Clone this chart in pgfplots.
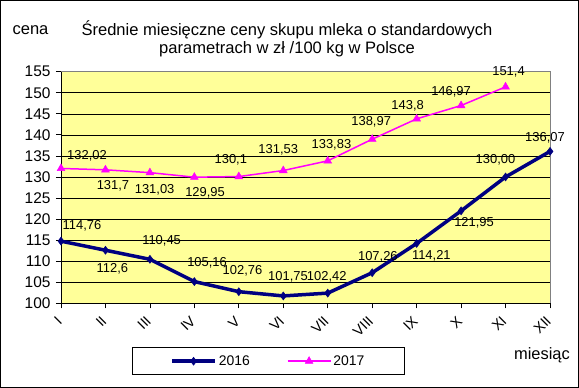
\documentclass[border=0pt]{standalone}
\usepackage{pgfplots}
\pgfplotsset{compat=1.18}
\usepackage{fontspec}
\setmainfont{Liberation Sans}
\definecolor{plotbg}{HTML}{FFFF99}
\definecolor{navyA}{HTML}{000080}
\definecolor{magB}{HTML}{FF00FF}
\begin{document}
\begin{tikzpicture}
\begin{axis}[
  name=ax, at={(0,0)}, anchor=south west,
  scale only axis, width=489bp, height=231.6bp,
  xmin=0, xmax=11, ymin=100, ymax=155,
  xtick={0,...,11},
  xticklabels={I,II,III,IV,V,VI,VII,VIII,IX,X,XI,XII},
  ytick={100,105,...,155},
  ymajorgrids, grid style={black, line width=0.6bp},
  axis background/.style={fill=plotbg},
  axis line style={draw=none},
  tick style={black, line width=0.8bp},
  major tick length=5bp,
  tick align=outside,
  tick pos=left,
  clip=false,
  /pgf/number format/assume math mode=true,
  yticklabel style={font=\fontsize{15.5}{15.5}\selectfont, xshift=-2bp},
  xticklabel style={yshift=-8bp, xshift=1bp, rotate=45, anchor=east, font=\fontsize{14.5}{14.5}\selectfont},
  legend image code/.code={\draw[mark repeat=2,mark phase=2,#1] plot coordinates {(0bp,0bp) (21.5bp,0bp) (43bp,0bp)};},
  legend style={draw=black, line width=0.8bp, at={(0.424,-0.25)}, anchor=center,
    legend columns=2, font=\fontsize{14}{14}\selectfont,
    inner xsep=38bp, inner ysep=6bp,
    /tikz/every even column/.append style={column sep=35bp}},
]
\addplot[navyA, line width=3.5bp, mark=diamond*, mark size=4bp,
  mark options={solid, fill=navyA, line width=0.5bp}] coordinates {
  (0,114.76) (1,112.6) (2,110.45) (3,105.16) (4,102.76) (5,101.75)
  (6,102.42) (7,107.26) (8,114.21) (9,121.95) (10,130.00) (11,136.07)};
\addlegendentry{2016}
\addplot[magB, line width=1.5bp, mark=triangle*, mark size=4.5bp,
  mark options={solid, fill=magB, line width=0.5bp}] coordinates {
  (0,132.02) (1,131.7) (2,131.03) (3,129.95) (4,130.1) (5,131.53)
  (6,133.83) (7,138.97) (8,143.8) (9,146.97) (10,151.4)};
\addlegendentry{2017}
\draw[gray, line width=1bp] (rel axis cs:0,1) -- (rel axis cs:1,1) -- (rel axis cs:1,0);
\draw[black, line width=1bp] (rel axis cs:0,1) -- (rel axis cs:0,0) -- (rel axis cs:1,0);
\tikzset{lbl/.style={font=\fontsize{13}{13}\selectfont, inner sep=0pt}}
% 2016 labels
\node[lbl, shift={(21bp,15.7bp)}] at (axis cs:0,114.76) {114,76};
\node[lbl, shift={(7bp,-19bp)}] at (axis cs:1,112.6) {112,6};
\node[lbl, shift={(11.7bp,18.3bp)}] at (axis cs:2,110.45) {110,45};
\node[lbl, shift={(12.7bp,18.7bp)}] at (axis cs:3,105.16) {105,16};
\node[lbl, shift={(3.7bp,20.6bp)}] at (axis cs:4,102.76) {102,76};
\node[lbl, shift={(4.7bp,19.4bp)}] at (axis cs:5,101.75) {101,75};
\node[lbl, shift={(-1bp,16bp)}] at (axis cs:6,102.42) {102,42};
\node[lbl, shift={(5.7bp,16bp)}] at (axis cs:7,107.26) {107,26};
\node[lbl, shift={(14.7bp,-12.7bp)}] at (axis cs:8,114.21) {114,21};
\node[lbl, shift={(13bp,-12.3bp)}] at (axis cs:9,121.95) {121,95};
\node[lbl, shift={(-10bp,17bp)}] at (axis cs:10,130.00) {130,00};
\node[lbl, shift={(-5bp,13.3bp)}] at (axis cs:11,136.07) {136,07};
% 2017 labels
\node[lbl, shift={(26bp,12.6bp)}] at (axis cs:0,132.02) {132,02};
\node[lbl, shift={(7.5bp,-15.7bp)}] at (axis cs:1,131.7) {131,7};
\node[lbl, shift={(4.7bp,-17bp)}] at (axis cs:2,131.03) {131,03};
\node[lbl, shift={(10.7bp,-15.6bp)}] at (axis cs:3,129.95) {129,95};
\node[lbl, shift={(-8bp,16.3bp)}] at (axis cs:4,130.1) {130,1};
\node[lbl, shift={(-5bp,20.3bp)}] at (axis cs:5,131.53) {131,53};
\node[lbl, shift={(3.7bp,16.3bp)}] at (axis cs:6,133.83) {133,83};
\node[lbl, shift={(-1bp,17.4bp)}] at (axis cs:7,138.97) {138,97};
\node[lbl, shift={(-9bp,13.5bp)}] at (axis cs:8,143.8) {143,8};
\node[lbl, shift={(-10bp,13.6bp)}] at (axis cs:9,146.97) {146,97};
\node[lbl, shift={(3bp,15bp)}] at (axis cs:10,151.4) {151,4};
\end{axis}
\draw[black, line width=1.5bp] ([shift={(-60.25bp,-83.95bp)}]ax.south west) rectangle ([shift={(517.25bp,302.55bp)}]ax.south west);
\node[font=\fontsize{16.6}{18}\selectfont, align=center, inner sep=0pt] at ([shift={(226bp,264.3bp)}]ax.south west)
  {Średnie miesięczne ceny skupu mleka o standardowych\\parametrach w zł /100 kg w Polsce};
\node[font=\fontsize{16.6}{16.6}\selectfont, inner sep=0pt] at ([shift={(-30.5bp,273.3bp)}]ax.south west) {cena};
\node[font=\fontsize{16.5}{16.5}\selectfont, inner sep=0pt] at ([shift={(481bp,-51.7bp)}]ax.south west) {miesiąc};
\end{tikzpicture}
\end{document}
